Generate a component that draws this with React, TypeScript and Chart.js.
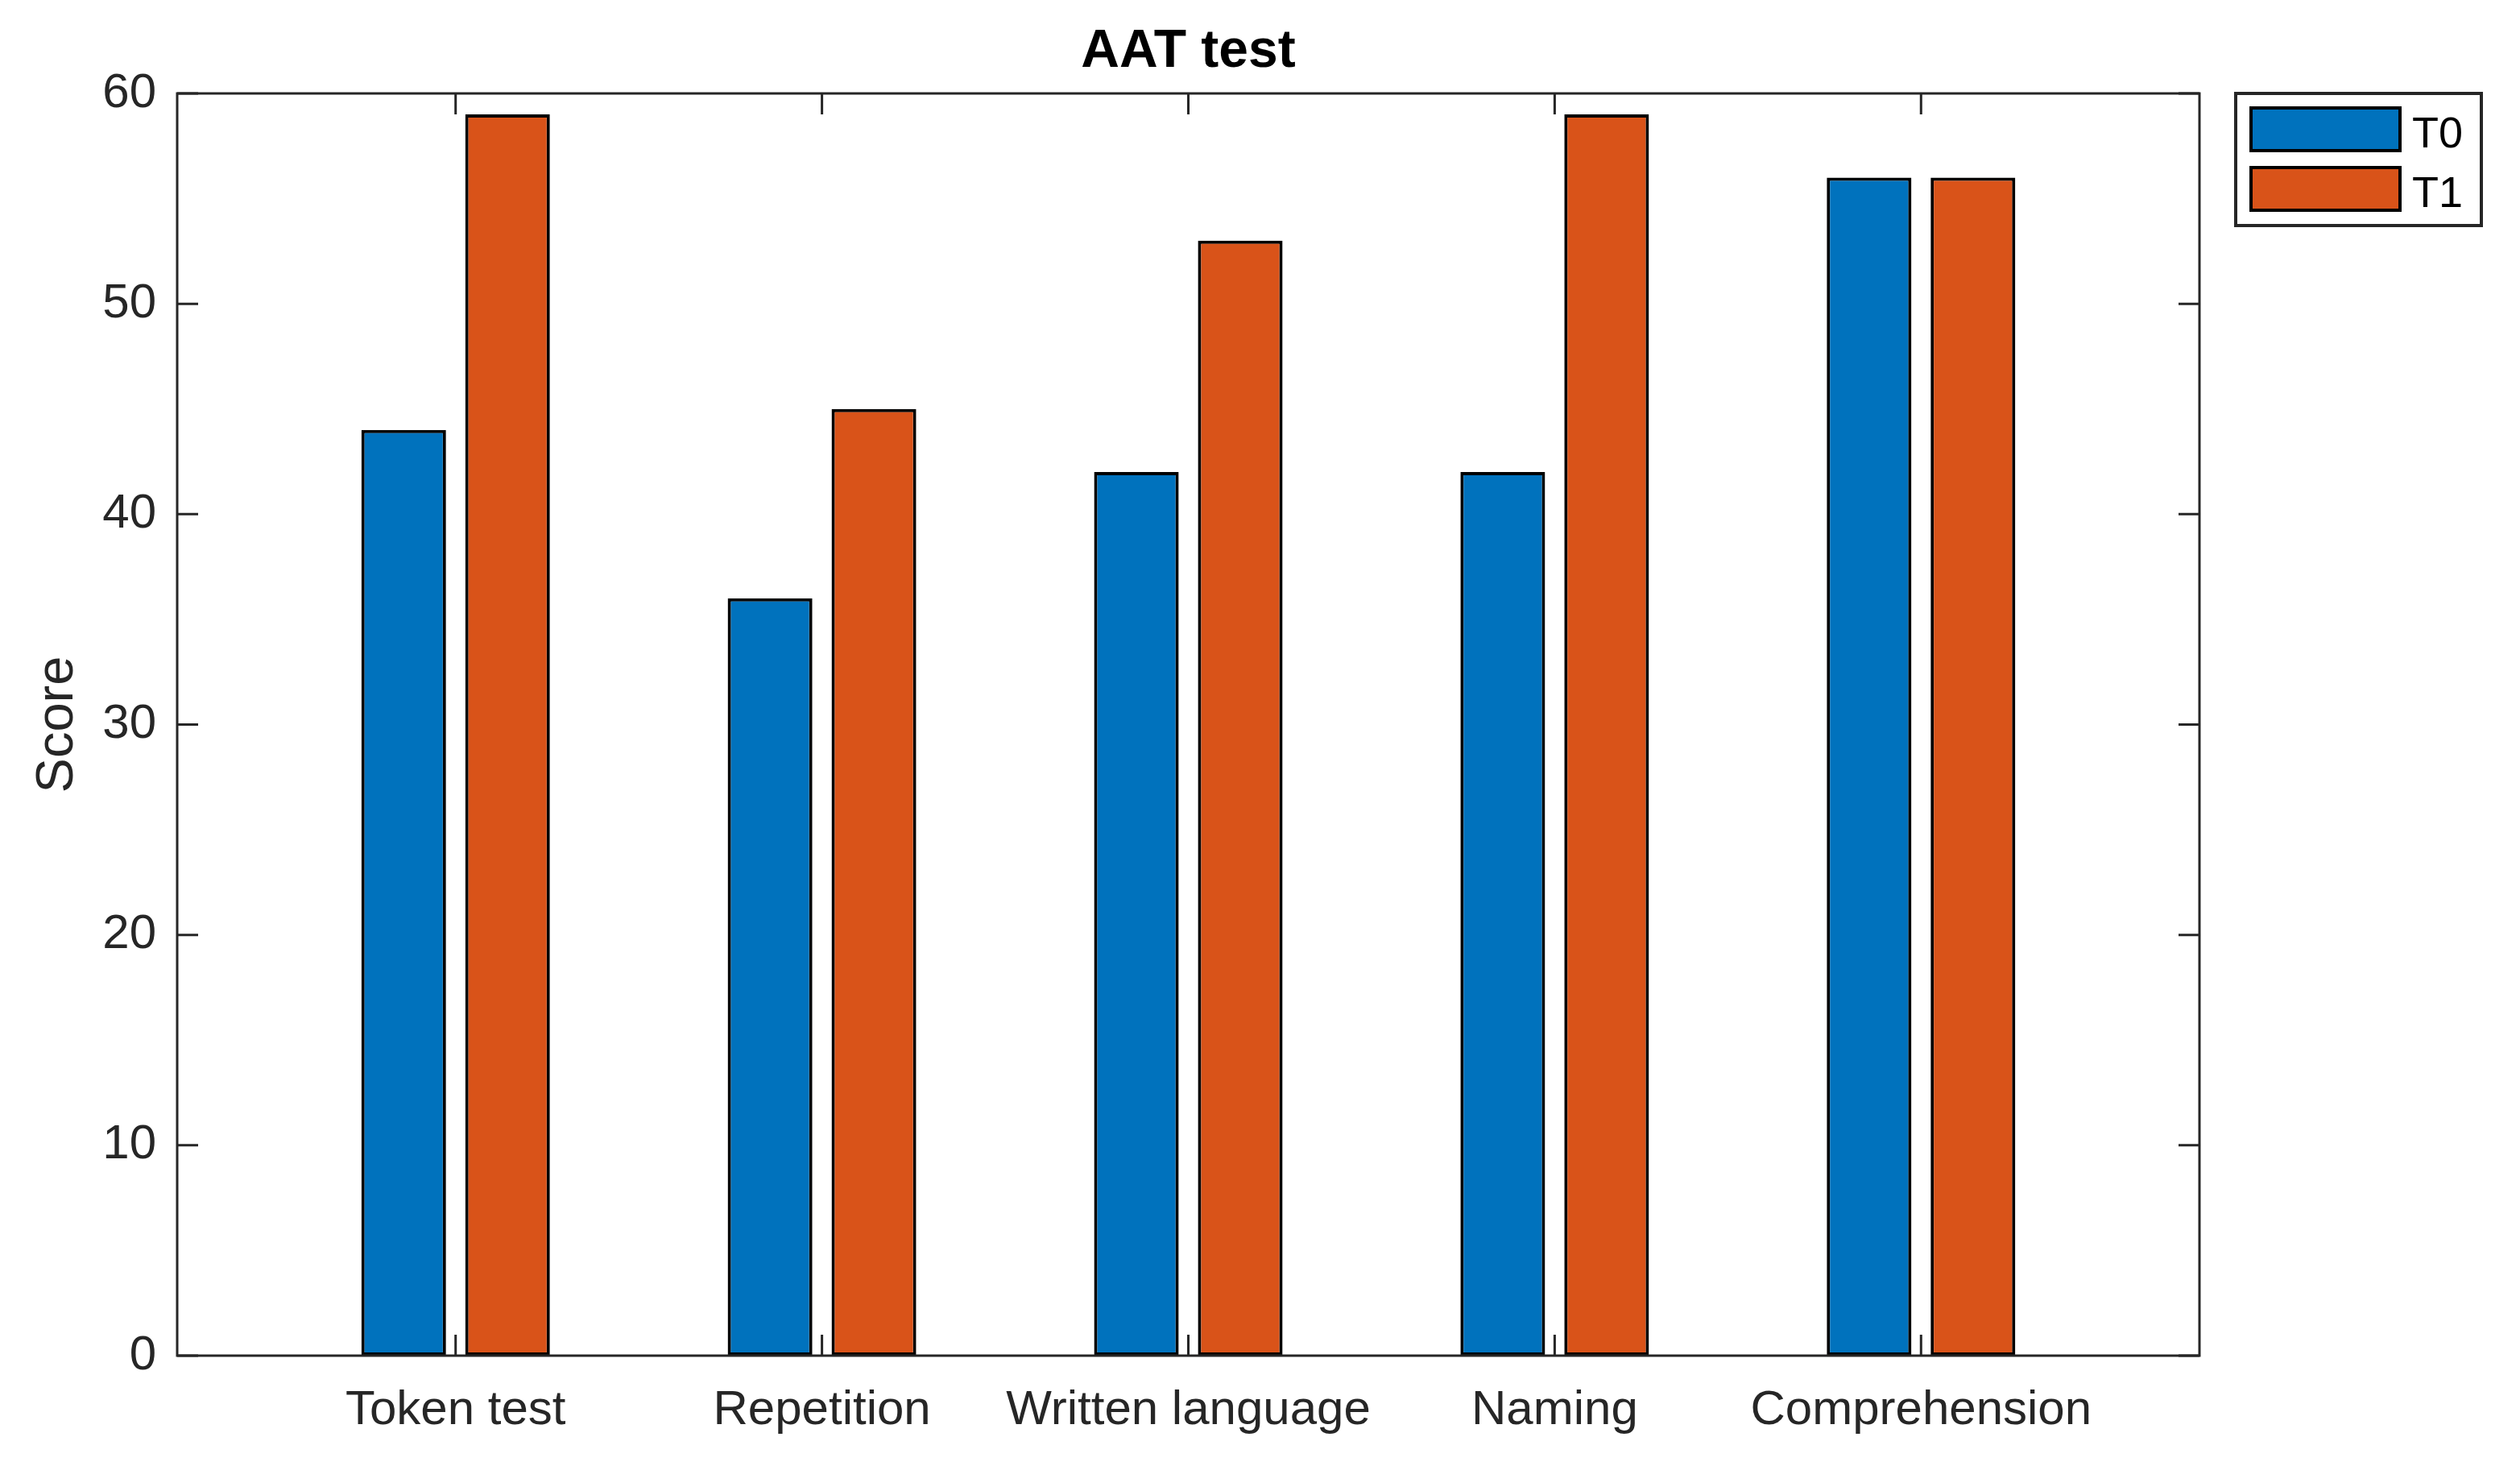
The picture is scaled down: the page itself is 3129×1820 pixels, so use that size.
import React, { useEffect, useRef } from "react";
import { Chart, registerables } from "chart.js";

Chart.register(...registerables);

const categories = ["Token test", "Repetition", "Written language", "Naming", "Comprehension"];
const seriesNames = ["T0", "T1"];
const t0Values = [44, 36, 42, 42, 56];
const t1Values = [59, 45, 53, 59, 56];
const seriesColors = ["#0072BD", "#D95319"];
const yTickValues = [0, 10, 20, 30, 40, 50, 60];

const FONT = "'Liberation Sans', Arial, Helvetica, sans-serif";
const AXIS_COLOR = "#262626";
const W = 3129;
const H = 1820;

const framePlugin = {
  id: "matlabFrame",
  afterDraw(chart: any) {
    const { ctx, chartArea } = chart;
    const { left, right, top, bottom } = chartArea;
    const xs = chart.scales.x;
    const ys = chart.scales.y;
    const tl = 26;
    ctx.save();
    ctx.strokeStyle = AXIS_COLOR;
    ctx.lineWidth = 3;
    ctx.beginPath();
    xs.ticks.forEach((t: any) => {
      const px = xs.getPixelForValue(t.value);
      ctx.moveTo(px, bottom);
      ctx.lineTo(px, bottom - tl);
      ctx.moveTo(px, top);
      ctx.lineTo(px, top + tl);
    });
    ys.ticks.forEach((t: any) => {
      const py = ys.getPixelForValue(t.value);
      ctx.moveTo(left, py);
      ctx.lineTo(left + tl, py);
      ctx.moveTo(right, py);
      ctx.lineTo(right - tl, py);
    });
    ctx.stroke();
    ctx.strokeRect(left, top, right - left, bottom - top);

    // legend
    const lx = 2776;
    const ly = 116;
    const lw = 305;
    const lh = 164;
    ctx.lineWidth = 4;
    ctx.strokeStyle = AXIS_COLOR;
    ctx.fillStyle = "#ffffff";
    ctx.fillRect(lx, ly, lw, lh);
    ctx.strokeRect(lx, ly, lw, lh);
    chart.data.datasets.forEach((ds: any, i: number) => {
      const sy = 134 + i * 74;
      ctx.fillStyle = ds.backgroundColor;
      ctx.fillRect(2795, sy, 185, 53);
      ctx.strokeStyle = "#000000";
      ctx.lineWidth = 4;
      ctx.strokeRect(2795, sy, 185, 53);
      ctx.fillStyle = "#000000";
      ctx.font = `54px ${FONT}`;
      ctx.textAlign = "left";
      ctx.textBaseline = "alphabetic";
      ctx.fillText(ds.label, 2995, 183 + i * 74);
    });
    ctx.restore();
  },
};

export default function App() {
  const ref = useRef<HTMLCanvasElement | null>(null);

  useEffect(() => {
    document.body.style.margin = "0";
    const canvas = ref.current;
    if (!canvas) return;
    const datasets = [t0Values, t1Values].map((vals, si) => ({
      label: seriesNames[si],
      data: categories.map((_, i) => ({ x: i + 1, y: vals[i] })),
      backgroundColor: seriesColors[si],
      borderColor: "#000000",
      borderWidth: 4,
      borderSkipped: false,
      barPercentage: 0.815,
      categoryPercentage: 0.567,
    }));
    const chart = new Chart(canvas, {
      type: "bar",
      data: { datasets } as any,
      plugins: [framePlugin],
      options: {
        responsive: false,
        animation: false,
        devicePixelRatio: 1,
        layout: { padding: { left: 0, right: 398, top: 0, bottom: 0 } },
        plugins: {
          legend: { display: false },
          tooltip: { enabled: false },
          title: {
            display: true,
            fullSize: false,
            text: "AAT test",
            color: "#000000",
            font: { family: FONT, size: 66, weight: "bold", lineHeight: 1.2 },
            padding: { top: 25, bottom: 11.8 },
          },
        },
        scales: {
          x: {
            type: "linear",
            offset: false,
            min: 0.24,
            max: 5.76,
            afterBuildTicks: (axis: any) => {
              axis.ticks = categories.map((_, i) => ({ value: i + 1 }));
            },
            afterFit: (s: any) => {
              s.height = 137;
            },
            grid: { display: false, drawTicks: false, offset: false },
            border: { display: false },
            ticks: {
              autoSkip: false,
              maxRotation: 0,
              minRotation: 0,
              padding: 32,
              color: AXIS_COLOR,
              font: { family: FONT, size: 60, lineHeight: 1.2 },
              callback: (v: any) => categories[Math.round(Number(v)) - 1] ?? "",
            },
          },
          y: {
            min: 0,
            max: 60,
            afterBuildTicks: (axis: any) => {
              axis.ticks = yTickValues.map((v) => ({ value: v }));
            },
            afterFit: (s: any) => {
              s.width = 220;
            },
            grid: { display: false, drawTicks: false },
            border: { display: false },
            ticks: {
              padding: 26,
              color: AXIS_COLOR,
              font: { family: FONT, size: 60, lineHeight: 1.2 },
            },
            title: {
              display: true,
              text: "Score",
              color: AXIS_COLOR,
              font: { family: FONT, size: 65, lineHeight: 1.2 },
              padding: { top: 33, bottom: 0 },
            },
          },
        },
      } as any,
    });
    return () => chart.destroy();
  }, []);

  return (
    <canvas
      ref={ref}
      width={W}
      height={H}
      style={{ display: "block", width: W + "px", height: H + "px" }}
    />
  );
}
